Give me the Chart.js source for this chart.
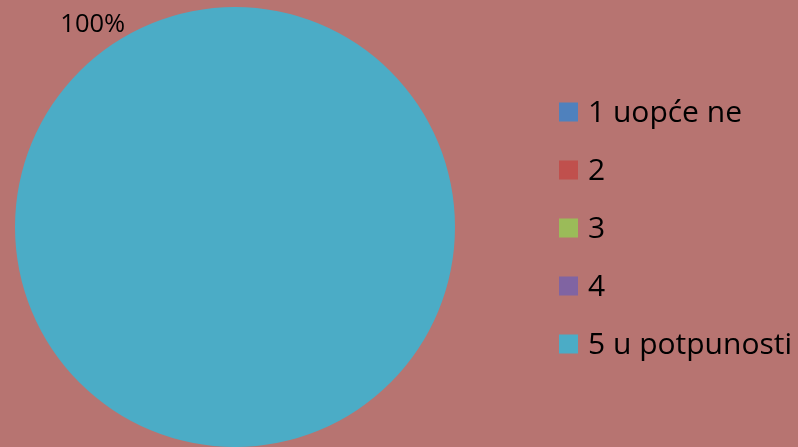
<!DOCTYPE html>
<html>
<head>
<meta charset="utf-8">
<script src="https://cdn.jsdelivr.net/npm/chart.js@4.4.0/dist/chart.umd.min.js"></script>
<style>
  html, body { margin: 0; padding: 0; background: #B77471; }
  #wrap { width: 798px; height: 447px; }
</style>
</head>
<body>
<div id="wrap"><canvas id="pieChart" width="798" height="447"></canvas></div>
<script>
const categories = ['1 uopće ne', '2', '3', '4', '5 u potpunosti'];
const shares = [0, 0, 0, 0, 100];
const sliceColors = ['#4F81BD', '#C0504D', '#9BBB59', '#8064A2', '#4BACC6'];

// percentage label just outside the slice, like the office chart
const percentLabel = {
    id: 'percentLabel',
    afterDatasetsDraw(chart) {
        const ctx = chart.ctx;
        const meta = chart.getDatasetMeta(0);
        const total = shares.reduce((a, b) => a + b, 0);
        meta.data.forEach((arc, i) => {
            if (!shares[i]) return;
            const r = arc.outerRadius + 28;
            const ang = -125 * Math.PI / 180;
            ctx.save();
            ctx.fillStyle = '#000';
            ctx.font = '25.5px "Open Sans"';
            ctx.textAlign = 'center';
            ctx.textBaseline = 'middle';
            ctx.fillText(Math.round(shares[i] / total * 100) + '%', arc.x + Math.cos(ang) * r, arc.y + Math.sin(ang) * r + 1);
            ctx.restore();
        });
    }
};

// legend on the right, laid out like the original (square + label per row)
const sideLegend = {
    id: 'sideLegend',
    afterDraw(chart) {
        const ctx = chart.ctx;
        const x = 559, top = 112, step = 58, box = 19;
        ctx.save();
        ctx.font = '30px "Open Sans"';
        ctx.textBaseline = 'middle';
        categories.forEach((name, i) => {
            const y = top + i * step;
            ctx.fillStyle = sliceColors[i];
            ctx.fillRect(x, y - box / 2, box, box);
            ctx.fillStyle = '#000';
            ctx.fillText(name, x + 29, y + 1);
        });
        ctx.restore();
    }
};

new Chart(document.getElementById('pieChart'), {
    type: 'pie',
    data: {
        labels: categories,
        datasets: [{
            data: shares,
            backgroundColor: sliceColors,
            borderWidth: 0
        }]
    },
    options: {
        responsive: false,
        animation: false,
        layout: { padding: { left: 15, top: 7, right: 343, bottom: 0 } },
        plugins: {
            tooltip: { enabled: false },
            legend: { display: false }
        }
    },
    plugins: [percentLabel, sideLegend]
});
</script>
</body>
</html>
